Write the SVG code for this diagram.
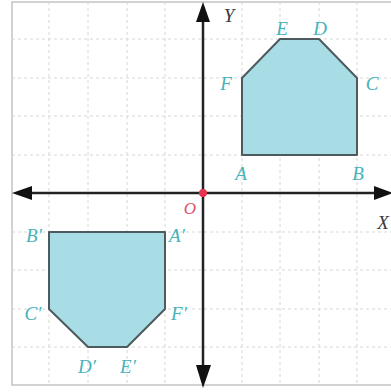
<svg xmlns="http://www.w3.org/2000/svg" width="391" height="392" viewBox="0 0 391 392">
<defs>
<style>
.grid line{stroke:#d6d6d6;stroke-width:1;stroke-dasharray:3 3}
.shape{fill:#a9dde6;stroke:#4d5b5f;stroke-width:2;stroke-linejoin:round}
.lbl{font-family:"Liberation Serif","DejaVu Serif",serif;font-style:italic;font-size:19px;fill:#45b3bb;text-anchor:middle}
.ax{font-family:"Liberation Serif","DejaVu Serif",serif;font-style:italic;font-size:19px;fill:#3a3a3a;text-anchor:middle}
.axis{stroke:#222;stroke-width:2.5}
</style>
</defs>
<rect x="0" y="0" width="391" height="392" fill="#fff"/>
<rect x="12" y="2" width="390" height="383" fill="none" stroke="#c4c4c4" stroke-width="1.5"/>
<g class="grid">
<line x1="49" y1="2" x2="49" y2="385"/>
<line x1="88" y1="2" x2="88" y2="385"/>
<line x1="127" y1="2" x2="127" y2="385"/>
<line x1="165" y1="2" x2="165" y2="385"/>
<line x1="242" y1="2" x2="242" y2="385"/>
<line x1="280" y1="2" x2="280" y2="385"/>
<line x1="319" y1="2" x2="319" y2="385"/>
<line x1="357" y1="2" x2="357" y2="385"/>
<line x1="12" y1="39" x2="391" y2="39"/>
<line x1="12" y1="78" x2="391" y2="78"/>
<line x1="12" y1="116" x2="391" y2="116"/>
<line x1="12" y1="155" x2="391" y2="155"/>
<line x1="12" y1="232" x2="391" y2="232"/>
<line x1="12" y1="270" x2="391" y2="270"/>
<line x1="12" y1="309" x2="391" y2="309"/>
<line x1="12" y1="347" x2="391" y2="347"/>
</g>
<g id="shape-ABCDEF">
<polygon class="shape" points="242,155 357,155 357,78 319,39 280,39 242,78"/>
<text class="lbl" x="241" y="180">A</text>
<text class="lbl" x="358" y="180">B</text>
<text class="lbl" x="372" y="90">C</text>
<text class="lbl" x="320" y="35">D</text>
<text class="lbl" x="282" y="35">E</text>
<text class="lbl" x="226" y="90">F</text>
</g>
<g id="shape-image">
<polygon class="shape" points="165,232 49,232 49,309 88,347 127,347 165,309"/>
<text class="lbl" x="177" y="242">A′</text>
<text class="lbl" x="34" y="242">B′</text>
<text class="lbl" x="33" y="320">C′</text>
<text class="lbl" x="87" y="373">D′</text>
<text class="lbl" x="128" y="373">E′</text>
<text class="lbl" x="179" y="320">F′</text>
</g>
<g id="axes">
<line class="axis" x1="30" y1="193" x2="375" y2="193"/>
<line class="axis" x1="203" y1="20" x2="203" y2="366"/>
<polygon points="12,193 32,186 32,200" fill="#111"/>
<polygon points="393,193 374,186 374,200" fill="#111"/>
<polygon points="203,2 196,22 210,22" fill="#111"/>
<polygon points="203,388 196,365 211,365" fill="#111"/>
<circle cx="203" cy="193" r="4" fill="#e8334f"/>
<text x="190" y="214" font-family="Liberation Serif,serif" font-style="italic" font-size="17" fill="#e0506a" text-anchor="middle">O</text>
<text class="ax" x="229" y="22">Y</text>
<text class="ax" x="383" y="229">X</text>
</g>
</svg>
